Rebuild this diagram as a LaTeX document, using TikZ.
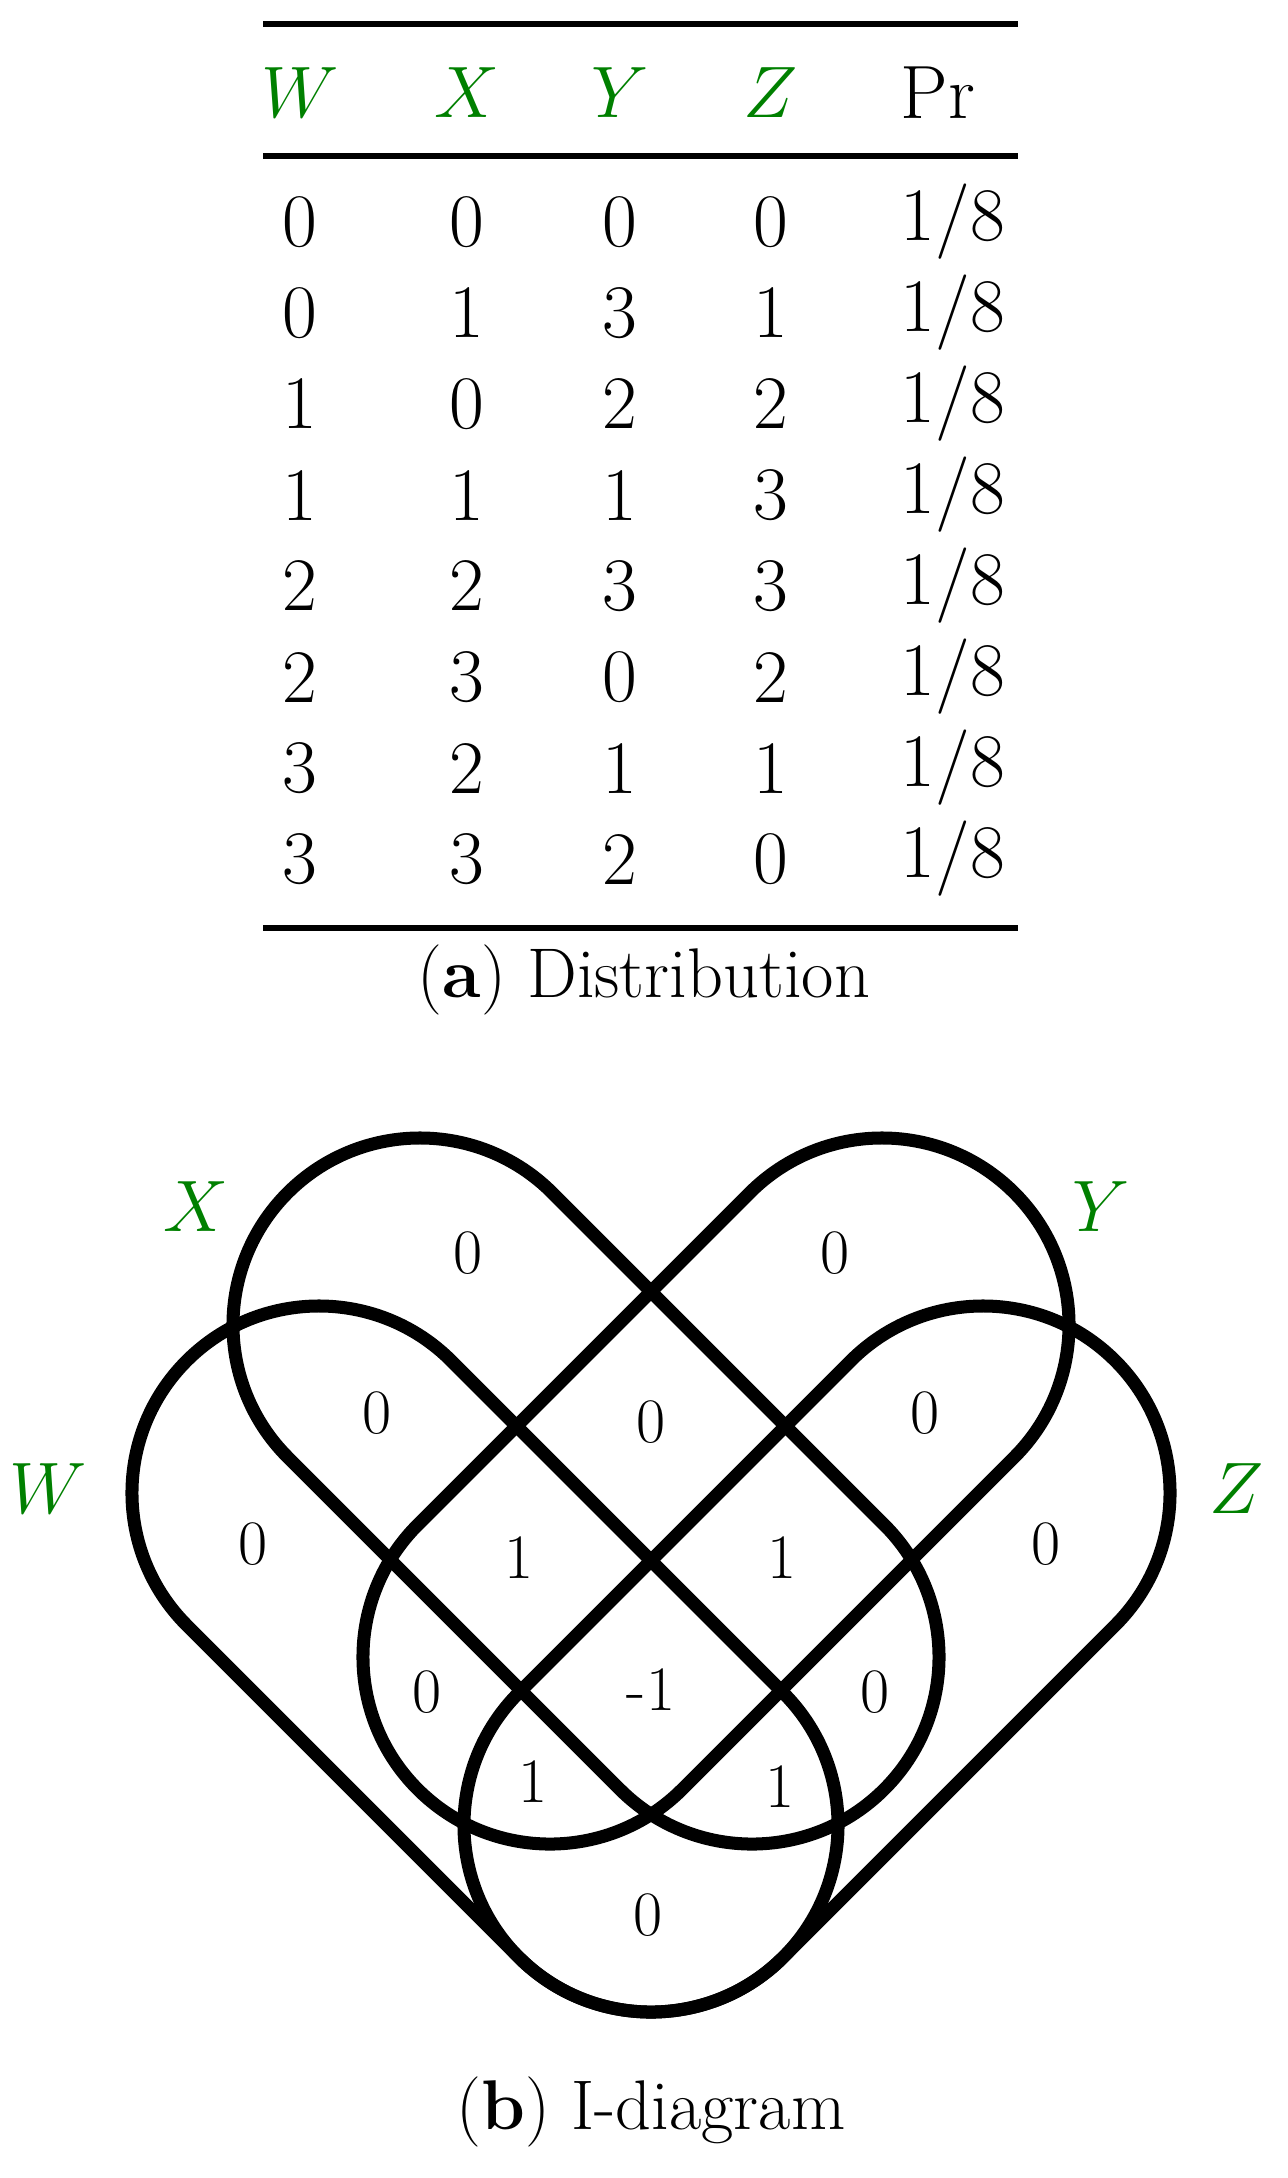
\documentclass[tikz,border=0pt]{standalone}
\definecolor{vgreen}{RGB}{0,128,0}
\begin{document}
\begin{tikzpicture}[x=0.01cm,y=0.01cm,
  tab/.style={font=\fontsize{21.5}{26}\selectfont, inner sep=0pt},
  lab/.style={font=\fontsize{18}{22}\selectfont, inner sep=0pt},
  captxt/.style={font=\fontsize{20}{24}\selectfont, inner sep=0pt},
  var/.style={font=\fontsize{21.5}{26}\selectfont, inner sep=0pt, text=vgreen},
  tabrule/.style={line width=1.7pt},
  blob/.style={line width=3.7pt}]
\useasboundingbox (0,0) rectangle (1288,-2178);
% table rules
\coordinate (r1a) at (263,-24); \coordinate (r1b) at (1018,-24);
\coordinate (r2a) at (263,-156); \coordinate (r2b) at (1018,-156);
\coordinate (r3a) at (263,-928); \coordinate (r3b) at (1018,-928);
\draw[tabrule] (r1a) -- (r1b);
\draw[tabrule] (r2a) -- (r2b);
\draw[tabrule] (r3a) -- (r3b);
% header
\node[var] (hW) at (300,-93) {$W$};
\node[var] (hX) at (467,-93) {$X$};
\node[var] (hY) at (620,-93) {$Y$};
\node[var] (hZ) at (771,-93) {$Z$};
\node[tab,anchor=west] (hP) at (900,-93) {Pr};
% rows
\foreach \w/\x/\y/\z [count=\i] in {0/0/0/0,0/1/3/1,1/0/2/2,1/1/1/3,2/2/3/3,2/3/0/2,3/2/1/1,3/3/2/0}{
  \pgfmathsetmacro{\yy}{-222-91*(\i-1)}
  \node[tab] (w\i) at (300,\yy) {\w};
  \node[tab] (x\i) at (467,\yy) {\x};
  \node[tab] (y\i) at (620,\yy) {\y};
  \node[tab] (z\i) at (771,\yy) {\z};
  \node[tab,anchor=west] (p\i) at (900,\yy) {1/8};
}
\node[captxt] (capa) at (644,-980) {(\textbf{a}) Distribution};
% capsules
\def\capsule{(-234.8,187) -- (234.8,187) arc[start angle=90,end angle=-90,radius=187] -- (-234.8,-187) arc[start angle=270,end angle=90,radius=187] -- cycle}
\draw[blob,shift={(485,-1659)},rotate=-45] \capsule;
\draw[blob,shift={(817,-1659)},rotate=45] \capsule;
\draw[blob,shift={(586,-1491)},rotate=-45] \capsule;
\draw[blob,shift={(716,-1491)},rotate=45] \capsule;
% set labels
\node[var] (lX) at (196,-1207) {$X$};
\node[var] (lW) at (48,-1489) {$W$};
\node[var] (lY) at (1101,-1207) {$Y$};
\node[var] (lZ) at (1237,-1489) {$Z$};
% region values
\foreach \px/\py/\v [count=\j] in {468/1253/0,835/1253/0,377/1413/0,651/1422/0,925/1413/0,
  253/1544/0,519/1558/1,782/1558/1,1046/1544/0,427/1692/0,651/1690/-1,875/1692/0,
  533/1782/1,780/1787/1,648/1915/0}{
  \node[lab] (v\j) at (\px,-\py) {\v};
}
\node[captxt] (capb) at (651,-2112) {(\textbf{b}) I-diagram};
\end{tikzpicture}
\end{document}
